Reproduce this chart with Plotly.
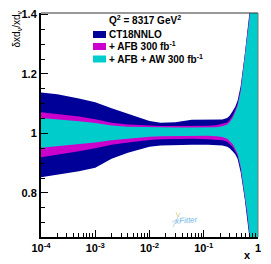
import plotly.graph_objects as go

# x grid (read positions)
x = [1e-4, 2e-4, 5e-4, 1e-3, 2e-3, 4e-3, 6e-3, 0.01, 0.016, 0.03, 0.06, 0.12, 0.17,
     0.22, 0.27, 0.30, 0.34, 0.38, 0.42, 0.48, 0.57, 0.63, 0.70, 0.78, 0.88, 1.0]

ct18_up = [1.138, 1.132, 1.118, 1.105, 1.085, 1.066, 1.055, 1.042, 1.036, 1.038, 1.046, 1.046, 1.045,
           1.047, 1.052, 1.060, 1.075, 1.090, 1.110, 1.160, 1.265, 1.330, 1.410, 1.550, 1.700, 1.800]
ct18_lo = [0.853, 0.862, 0.873, 0.885, 0.915, 0.935, 0.945, 0.955, 0.960, 0.962, 0.962, 0.962, 0.962,
           0.960, 0.955, 0.950, 0.940, 0.930, 0.915, 0.870, 0.780, 0.720, 0.645, 0.500, 0.400, 0.300]

afb_up = [1.071, 1.066, 1.057, 1.048, 1.036, 1.030, 1.028, 1.026, 1.025, 1.025, 1.025, 1.026, 1.028,
          1.032, 1.037, 1.045, 1.060, 1.080, 1.100, 1.150, 1.255, 1.320, 1.400, 1.550, 1.700, 1.800]
afb_lo = [0.920, 0.928, 0.940, 0.950, 0.962, 0.970, 0.974, 0.978, 0.981, 0.982, 0.982, 0.981, 0.980,
          0.977, 0.972, 0.965, 0.955, 0.940, 0.925, 0.880, 0.790, 0.730, 0.655, 0.500, 0.400, 0.300]

aw_up = [1.052, 1.048, 1.041, 1.035, 1.027, 1.023, 1.022, 1.021, 1.020, 1.020, 1.020, 1.020, 1.021,
         1.024, 1.030, 1.038, 1.052, 1.072, 1.092, 1.142, 1.248, 1.312, 1.390, 1.560, 1.700, 1.800]
aw_lo = [0.952, 0.957, 0.964, 0.970, 0.977, 0.983, 0.986, 0.989, 0.991, 0.992, 0.992, 0.992, 0.991,
         0.988, 0.982, 0.975, 0.965, 0.948, 0.932, 0.888, 0.795, 0.738, 0.662, 0.490, 0.400, 0.300]

names = ["CT18NNLO", "+ AFB 300 fb<sup>-1</sup>", "+ AFB + AW 300 fb<sup>-1</sup>"]
colors = ["#000099", "#cc00cc", "#00cccc"]
bands = [(ct18_lo, ct18_up), (afb_lo, afb_up), (aw_lo, aw_up)]

x_tickvals = [1e-4, 1e-3, 1e-2, 1e-1, 1]
x_ticktext = ["10<sup>-4</sup>", "10<sup>-3</sup>", "10<sup>-2</sup>", "10<sup>-1</sup>", "1"]
y_tickvals = [0.8, 1.0, 1.2, 1.4]
y_ticktext = ["0.8", "1", "1.2", "1.4"]

minor_x = [d * 10.0 ** k for k in range(-4, 0) for d in range(2, 10)]

FONT = "Liberation Sans, Arial, sans-serif"

fig = go.Figure()
for (lo, up), c, n in zip(bands, colors, names):
    fig.add_trace(go.Scatter(x=x, y=lo, mode="lines", line=dict(width=0, color=c),
                             showlegend=False, hoverinfo="skip"))
    fig.add_trace(go.Scatter(x=x, y=up, mode="lines", line=dict(width=0, color=c),
                             fill="tonexty", fillcolor=c, name=n, showlegend=False))

# page body has an 8px margin: the figure is drawn at (8, 8) in the window
OFF = 8
W, H = 271 - OFF, 264 - OFF
L, T = 41 - OFF, 13 - OFF
pw, ph = 217, 224
R, B = W - L - pw, H - T - ph

def px2paper(sx, sy):
    """screen pixel -> paper coords"""
    fx, fy = sx - OFF, sy - OFF
    return (fx - L) / pw, 1 - (fy - T) / ph

shapes = []
annotations = []
# frame top & right
shapes.append(dict(type="line", xref="paper", yref="paper", x0=0, x1=1, y0=1, y1=1,
                   line=dict(color="#333333", width=1)))
shapes.append(dict(type="line", xref="paper", yref="paper", x0=1, x1=1, y0=0, y1=1,
                   line=dict(color="#777777", width=1)))

# legend
rows = [34.5, 46.5, 59.0]
for r, c, n in zip(rows, colors, names):
    x0, y0 = px2paper(93, r - 3.5)
    x1, y1 = px2paper(106, r + 3.5)
    shapes.append(dict(type="rect", xref="paper", yref="paper", x0=x0, x1=x1, y0=y1, y1=y0,
                       fillcolor=c, line=dict(width=0)))
    tx, ty = px2paper(107, r)
    annotations.append(dict(text=n, xref="paper", yref="paper", x=tx, y=ty, xanchor="left",
                            yanchor="middle", showarrow=False,
                            font=dict(family=FONT, size=10, color="black", weight="bold")))
tx, ty = px2paper(107, 20)
annotations.append(dict(text="Q<sup>2</sup> = 8317 GeV<sup>2</sup>", xref="paper", yref="paper",
                        x=tx, y=ty, xanchor="left", yanchor="middle", showarrow=False,
                        font=dict(family=FONT, size=10, color="black", weight="bold")))
# y title
tx, ty = px2paper(8, 9)
annotations.append(dict(text="δxd<sub>v</sub>/xd<sub>v</sub>", xref="paper", yref="paper",
                        x=tx, y=ty, xanchor="left", yanchor="top", textangle=-90,
                        showarrow=False, font=dict(family=FONT, size=10, color="black")))
# x title
tx, ty = px2paper(247, 255)
annotations.append(dict(text="x", xref="paper", yref="paper", x=tx, y=ty, xanchor="center",
                        yanchor="middle", showarrow=False,
                        font=dict(family=FONT, size=11, color="black", weight="bold")))
# xFitter logo
for (a, b, cc) in [((173, 227), (180, 213), "#b8daf0"), ((176, 212), (178, 217), "#f2d27a"),
                   ((172, 222), (178, 219), "#b8daf0")]:
    ax0, ay0 = px2paper(*a)
    ax1, ay1 = px2paper(*b)
    shapes.append(dict(type="line", xref="paper", yref="paper", x0=ax0, y0=ay0, x1=ax1, y1=ay1,
                       line=dict(color=cc, width=1)))
tx, ty = px2paper(186, 220)
annotations.append(dict(text="<i>xFitter</i>", xref="paper", yref="paper", x=tx, y=ty,
                        xanchor="center", yanchor="middle", showarrow=False, textangle=-5,
                        font=dict(family=FONT, size=8, color="#6fb6e6")))

fig.update_layout(
    width=W, height=H, margin=dict(l=L, r=R, t=T, b=B, pad=0, autoexpand=False),
    paper_bgcolor="white", plot_bgcolor="white",
    shapes=shapes, annotations=annotations, showlegend=False,
    xaxis=dict(type="log", range=[-4, 0], tickvals=x_tickvals, ticktext=x_ticktext,
               ticks="inside", ticklen=7, tickwidth=1, tickcolor="black", automargin=False,
               showline=True, linecolor="black", linewidth=2, showgrid=False, zeroline=False,
               minor=dict(ticks="inside", ticklen=4, tickvals=minor_x, tickcolor="black", showgrid=False),
               tickfont=dict(family=FONT, size=11, color="black", weight="bold")),
    yaxis=dict(range=[0.652, 1.405], tickvals=y_tickvals, ticktext=y_ticktext,
               ticks="inside", ticklen=7, tickwidth=1, tickcolor="black", automargin=False,
               showline=True, linecolor="black", linewidth=2, showgrid=False, zeroline=False,
               minor=dict(ticks="inside", ticklen=4, dtick=0.05, tickcolor="black", showgrid=False),
               tickfont=dict(family=FONT, size=11, color="black", weight="bold")),
)

fig.write_html("out.html")
